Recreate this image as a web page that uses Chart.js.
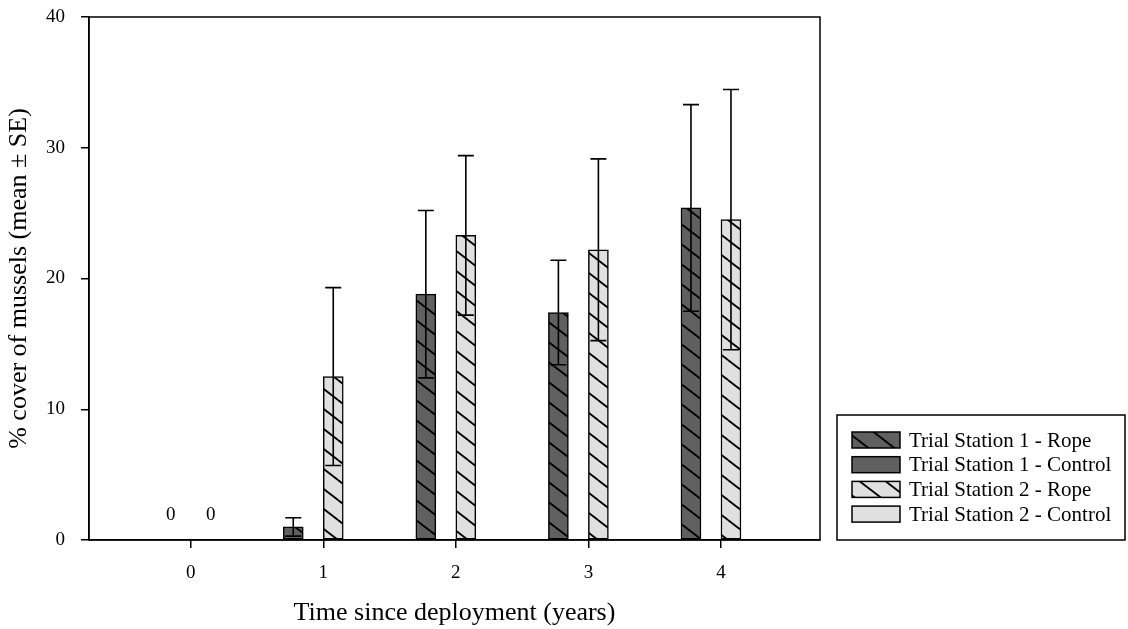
<!DOCTYPE html>
<html>
<head>
<meta charset="utf-8">
<script src="https://cdn.jsdelivr.net/npm/chart.js@4"></script>
<style>
  html, body { margin: 0; padding: 0; background: #fff; }
  #wrap { width: 1128px; height: 629px; }
</style>
</head>
<body>
<div id="wrap"><canvas id="musselChart"></canvas></div>
<script>
const years = [0, 1, 2, 3, 4];
const seriesNames = ['Trial Station 1 - Rope', 'Trial Station 1 - Control', 'Trial Station 2 - Rope', 'Trial Station 2 - Control'];
const st1Rope = [null, 1.0, 18.8, 17.4, 25.4];
const st1RopeSE = [null, 0.7, 6.4, 4.0, 7.9];
const st1Control = [null, null, null, null, null];
const st2Rope = [null, 12.5, 23.3, 22.2, 24.5];
const st2RopeSE = [null, 6.8, 6.1, 6.95, 9.95];
const st2Control = [null, null, null, null, null];
const yTicks = [0, 10, 20, 30, 40];
const zeroLabels = ['0', '0'];   // printed at year 0 where nothing was recorded

const FONT = "'Liberation Serif', 'Times New Roman', serif";
const DARK = '#606060';
const LIGHT = '#e0e0e0';

function hatch(bg) {
    const w = 26, h = 20;
    const c = document.createElement('canvas');
    c.width = w; c.height = h;
    const g = c.getContext('2d');
    g.fillStyle = bg;
    g.fillRect(0, 0, w, h);
    g.strokeStyle = '#000';
    g.lineWidth = 1.8;
    for (let dx = -w; dx <= w; dx += w) {
        for (let dy = -h; dy <= h; dy += h) {
            g.beginPath();
            g.moveTo(dx, dy);
            g.lineTo(dx + w, dy + h);
            g.stroke();
        }
    }
    return g.createPattern(c, 'repeat');
}

function toPoints(arr) {
    return years.map((x, i) => ({ x: x, y: arr[i] }));
}

const errors = [st1RopeSE, null, st2RopeSE, null];

const errorBars = {
    id: 'errorBars',
    afterDatasetsDraw(chart) {
        const ctx = chart.ctx;
        const y = chart.scales.y;
        ctx.save();
        ctx.strokeStyle = '#000';
        ctx.lineWidth = 1.6;
        chart.data.datasets.forEach((ds, di) => {
            const se = errors[di];
            if (!se) return;
            chart.getDatasetMeta(di).data.forEach((bar, i) => {
                const v = ds.data[i].y;
                if (v == null || se[i] == null) return;
                const top = y.getPixelForValue(v + se[i]);
                const bot = y.getPixelForValue(Math.max(0, v - se[i]));
                const x = bar.x;
                ctx.beginPath();
                ctx.moveTo(x, top); ctx.lineTo(x, bot);
                ctx.moveTo(x - 8, top); ctx.lineTo(x + 8, top);
                ctx.moveTo(x - 8, bot); ctx.lineTo(x + 8, bot);
                ctx.stroke();
            });
        });
        ctx.restore();
    }
};

const frameAndLegend = {
    id: 'frameAndLegend',
    afterDraw(chart) {
        const ctx = chart.ctx;
        const a = chart.chartArea;
        ctx.save();
        ctx.strokeStyle = '#000';
        ctx.lineWidth = 1.5;
        ctx.strokeRect(a.left, a.top, a.right - a.left, a.bottom - a.top);

        // zero labels at year 0
        const x0 = chart.scales.x.getPixelForValue(0);
        ctx.fillStyle = '#000';
        ctx.font = '19px ' + FONT;
        ctx.textAlign = 'center';
        ctx.textBaseline = 'middle';
        ctx.fillText(zeroLabels[0], x0 - 20, 515);
        ctx.fillText(zeroLabels[1], x0 + 20, 515);

        // legend box
        const lx = 837, ly = 415, lw = 288, lh = 125;
        ctx.strokeRect(lx, ly, lw, lh);
        ctx.textAlign = 'left';
        ctx.font = '21px ' + FONT;
        chart.data.datasets.forEach((ds, i) => {
            const cy = 440 + i * 24.7;
            ctx.fillStyle = ds.backgroundColor;
            ctx.fillRect(852, cy - 8, 48, 16);
            ctx.lineWidth = 1.5;
            ctx.strokeRect(852, cy - 8, 48, 16);
            ctx.fillStyle = '#000';
            ctx.fillText(ds.label, 909, cy + 1);
        });
        ctx.restore();
    }
};

const barStyle = {
    borderColor: '#000',
    borderWidth: 1.5,
    borderSkipped: false,
    barThickness: 20
};

new Chart(document.getElementById('musselChart'), {
    type: 'bar',
    data: {
        datasets: [
            Object.assign({ label: seriesNames[0], data: toPoints(st1Rope), backgroundColor: hatch(DARK) }, barStyle),
            Object.assign({ label: seriesNames[1], data: toPoints(st1Control), backgroundColor: DARK }, barStyle),
            Object.assign({ label: seriesNames[2], data: toPoints(st2Rope), backgroundColor: hatch(LIGHT) }, barStyle),
            Object.assign({ label: seriesNames[3], data: toPoints(st2Control), backgroundColor: LIGHT }, barStyle)
        ]
    },
    options: {
        responsive: true,
        maintainAspectRatio: false,
        animation: false,
        layout: { padding: { left: 0, top: 17, right: 308, bottom: 0 } },
        plugins: {
            legend: { display: false },
            tooltip: { enabled: false }
        },
        scales: {
            x: {
                type: 'linear',
                offset: false,
                min: -0.767,
                max: 4.747,
                afterBuildTicks: s => { s.ticks = years.map(v => ({ value: v })); },
                afterFit: s => { s.height = 89; s.paddingLeft = 0; s.paddingRight = 0; },
                grid: { offset: false, drawOnChartArea: false, drawTicks: true, tickLength: 8, color: '#000', lineWidth: 1.5 },
                border: { color: '#000', width: 1.5 },
                ticks: { color: '#000', padding: 14, font: { family: FONT, size: 19 } },
                title: {
                    display: true,
                    text: 'Time since deployment (years)',
                    color: '#000',
                    font: { family: FONT, size: 26 },
                    padding: { top: 0, bottom: 0 }
                }
            },
            y: {
                min: 0,
                max: 40,
                afterBuildTicks: s => { s.ticks = yTicks.map(v => ({ value: v })); },
                afterFit: s => { s.width = 89; s.paddingTop = 0; s.paddingBottom = 0; },
                grid: { drawOnChartArea: false, drawTicks: true, tickLength: 8, color: '#000', lineWidth: 1.5 },
                border: { color: '#000', width: 1.5 },
                ticks: { color: '#000', padding: 16, font: { family: FONT, size: 19 } },
                title: {
                    display: true,
                    text: '% cover of mussels (mean ± SE)',
                    color: '#000',
                    font: { family: FONT, size: 26 },
                    padding: { top: 4, bottom: 0 }
                }
            }
        }
    },
    plugins: [errorBars, frameAndLegend]
});
</script>
</body>
</html>
